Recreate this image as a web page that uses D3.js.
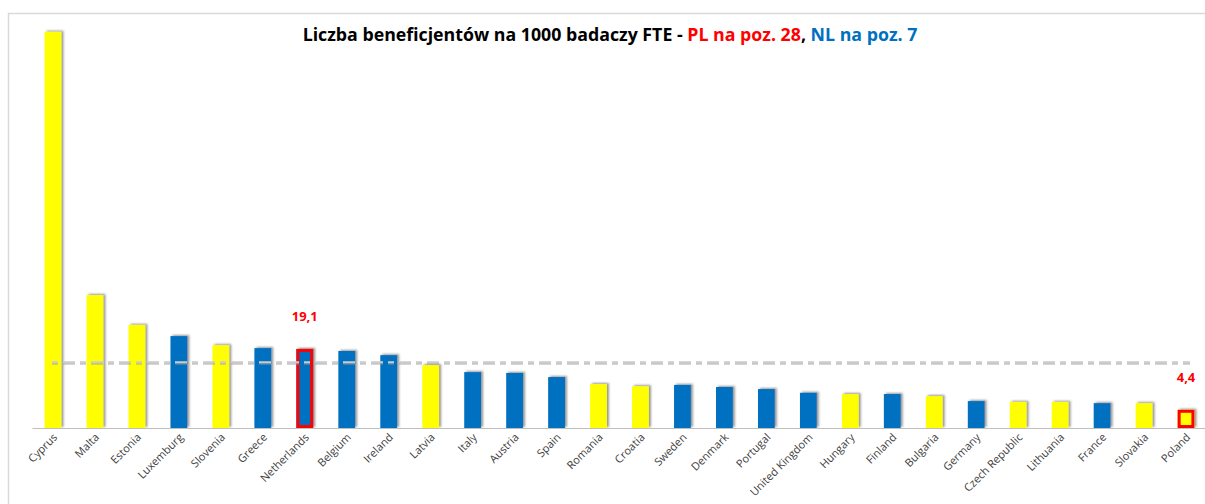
<!DOCTYPE html>
<html>
<head>
<meta charset="utf-8">
<script src="https://cdn.jsdelivr.net/npm/d3@7"></script>
<style>
  html, body { margin: 0; padding: 0; background: #fff; }
  svg { display: block; font-family: 'Open Sans', 'Liberation Sans', sans-serif; }
</style>
</head>
<body>
<div id="chart"></div>
<script>
const countries = ['Cyprus', 'Malta', 'Estonia', 'Luxemburg', 'Slovenia', 'Greece', 'Netherlands',
  'Belgium', 'Ireland', 'Latvia', 'Italy', 'Austria', 'Spain', 'Romania', 'Croatia', 'Sweden',
  'Denmark', 'Portugal', 'United Kingdom', 'Hungary', 'Finland', 'Bulgaria', 'Germany',
  'Czech Republic', 'Lithuania', 'France', 'Slovakia', 'Poland'];
const values = [95.7, 32.1, 24.9, 22.2, 20.0, 19.3, 19.1, 18.6, 17.6, 15.2, 13.5, 13.3, 12.3,
  10.6, 10.1, 10.4, 9.9, 9.4, 8.5, 8.2, 8.2, 7.7, 6.5, 6.3, 6.3, 6.0, 6.0, 4.4];
// 'n' = new member state (yellow), 'o' = old member state (blue)
const groups = ['n', 'n', 'n', 'o', 'n', 'o', 'o', 'o', 'o', 'n', 'o', 'o', 'o', 'n', 'n', 'o',
  'o', 'o', 'o', 'n', 'o', 'n', 'o', 'n', 'n', 'o', 'n', 'n'];
const highlighted = ['Netherlands', 'Poland'];
const average = 15.9;

const YELLOW = '#ffff00';
const BLUE = '#0070c0';
const RED = '#ff0000';

const width = 1205;
const height = 504;

const svg = d3.select('#chart')
  .append('svg')
  .attr('width', width)
  .attr('height', height);

const defs = svg.append('defs');
const shadow = defs.append('filter')
  .attr('id', 'shadow')
  .attr('x', '-50%').attr('y', '-10%')
  .attr('width', '200%').attr('height', '120%');
shadow.append('feDropShadow')
  .attr('dx', 2).attr('dy', -1)
  .attr('stdDeviation', 1)
  .attr('flood-color', '#404040')
  .attr('flood-opacity', 0.55);

// chart area border
svg.append('rect')
  .attr('x', 8.5).attr('y', 13.5)
  .attr('width', 1220).attr('height', 520)
  .attr('fill', 'none')
  .attr('stroke', '#d9d9d9')
  .attr('stroke-width', 1.5);

const x = d3.scaleBand()
  .domain(countries)
  .range([32, 1207])
  .paddingInner(0.6)
  .paddingOuter(0.3);

const y = d3.scaleLinear()
  .domain([0, 100])
  .range([428, 14]);

const data = countries.map((c, i) => ({ name: c, value: values[i], group: groups[i] }));

// bars
svg.append('g')
  .selectAll('rect')
  .data(data)
  .enter()
  .append('rect')
  .attr('x', d => x(d.name))
  .attr('y', d => y(d.value))
  .attr('width', x.bandwidth())
  .attr('height', d => y(0) - y(d.value))
  .attr('fill', d => (d.group === 'n' ? YELLOW : BLUE))
  .attr('filter', 'url(#shadow)');

// red outlines for NL and PL
svg.append('g')
  .selectAll('rect')
  .data(data.filter(d => highlighted.includes(d.name)))
  .enter()
  .append('rect')
  .attr('x', d => x(d.name) + 1.5)
  .attr('y', d => y(d.value) + 1.5)
  .attr('width', x.bandwidth() - 3)
  .attr('height', d => y(0) - y(d.value) - 3)
  .attr('fill', 'none')
  .attr('stroke', RED)
  .attr('stroke-width', 3);

// value labels
svg.append('g')
  .selectAll('text')
  .data(data.filter(d => highlighted.includes(d.name)))
  .enter()
  .append('text')
  .attr('x', d => x(d.name) + x.bandwidth() / 2)
  .attr('y', d => y(d.value) - 28)
  .attr('text-anchor', 'middle')
  .attr('fill', RED)
  .attr('font-weight', 'bold')
  .attr('font-size', 13)
  .text(d => d3.format('.1f')(d.value).replace('.', ','));

// average line
const avg = svg.append('g');
avg.append('line')
  .attr('x1', 52).attr('x2', 1190)
  .attr('y1', y(average) + 1.5).attr('y2', y(average) + 1.5)
  .attr('stroke', '#9a9a9a')
  .attr('stroke-width', 2)
  .attr('stroke-dasharray', '6,5,12,5')
  .attr('opacity', 0.55);
avg.append('line')
  .attr('x1', 52).attr('x2', 1190)
  .attr('y1', y(average)).attr('y2', y(average))
  .attr('stroke', '#cbcbcb')
  .attr('stroke-width', 2)
  .attr('stroke-dasharray', '6,5,12,5');

// x axis
const xAxis = svg.append('g')
  .attr('transform', `translate(0,${y(0)})`)
  .call(d3.axisBottom(x).tickSize(0).tickPadding(0));
xAxis.select('.domain')
  .attr('stroke', '#bfbfbf')
  .attr('stroke-width', 1);
xAxis.selectAll('text')
  .attr('font-family', "'Open Sans', 'Liberation Sans', sans-serif")
  .attr('font-size', 11)
  .attr('fill', '#404040')
  .attr('text-anchor', 'end')
  .attr('dy', 0)
  .attr('transform', 'translate(5,10) rotate(-45)');

// title
const title = svg.append('text')
  .attr('x', 610)
  .attr('y', 41)
  .attr('text-anchor', 'middle')
  .attr('font-weight', 'bold')
  .attr('font-size', 17);
title.append('tspan').attr('fill', '#000').text('Liczba beneficjentów na 1000 badaczy FTE - ');
title.append('tspan').attr('fill', RED).text('PL na poz. 28');
title.append('tspan').attr('fill', '#000').text(',');
title.append('tspan').attr('fill', BLUE).text(' NL na poz. 7');
const tw = title.node().getComputedTextLength();
title.attr('font-size', 17 * 615 / tw);
</script>
</body>
</html>
